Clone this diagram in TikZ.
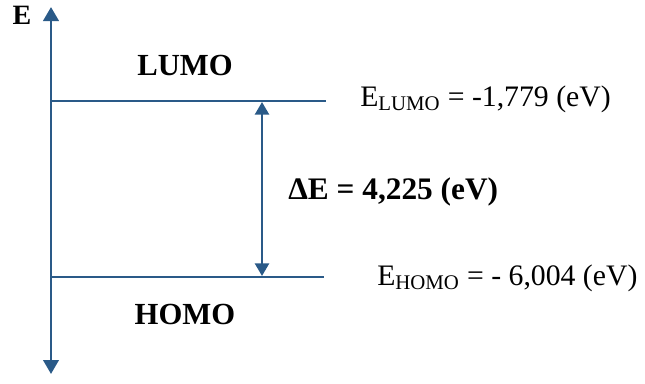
\documentclass[tikz,border=0pt]{standalone}
\usepackage{fontspec}
\setmainfont{Liberation Serif}
\usetikzlibrary{arrows.meta,positioning}
\definecolor{level}{HTML}{2A5A88}
\tikzset{>={Triangle[length=10.5pt,width=11.5pt]},
  every node/.style={inner sep=0pt,font=\fontsize{22.3}{26}\selectfont},
  axis/.style={->,draw=level,fill=level,line width=2.2pt},
  orbital/.style={draw=level,line width=1.6pt},
  gap/.style={<->,draw=level,fill=level,line width=1.9pt,>={Triangle[length=9.5pt,width=10.5pt]}},
  orblabel/.style={font=\fontsize{23}{26}\selectfont\bfseries},
  energy/.style={anchor=base west}}

\begin{document}
\begin{tikzpicture}[x=0.75pt,y=-0.75pt]
\useasboundingbox(0,0)rectangle(645,383);
% energy axis
\coordinate(top)at(51,7);\coordinate(bottom)at(51,374);\coordinate(mid)at(51,200);
\draw[axis](mid)--(top);
\draw[axis](mid)--(bottom);
\node[anchor=base,font=\fontsize{21}{24}\selectfont\bfseries](elabel)at(22,24){E};
% levels
\coordinate(lumoL)at(51,101);\coordinate(lumoR)at(326,101);
\coordinate(homoL)at(51,277);\coordinate(homoR)at(324,277);
\draw[orbital](lumoL)--(lumoR);
\draw[orbital](homoL)--(homoR);
\node[orblabel,anchor=base](lumo)at(185,75){LUMO};
\node[orblabel,anchor=base](homo)at(185,324){HOMO};
% gap
\coordinate(gtop)at(262,102);\coordinate(gbot)at(262,276);
\draw[gap](gtop)--(gbot);
\node[anchor=base west,font=\fontsize{23.5}{26}\selectfont\bfseries](dE)at(288,199){ΔE = 4,225 (eV)};
\node[energy](elumo)at(360,106){E\textsubscript{LUMO} = -1,779 (eV)};
\node[energy](ehomo)at(377,285){E\textsubscript{HOMO} = - 6,004 (eV)};
\end{tikzpicture}
\end{document}
